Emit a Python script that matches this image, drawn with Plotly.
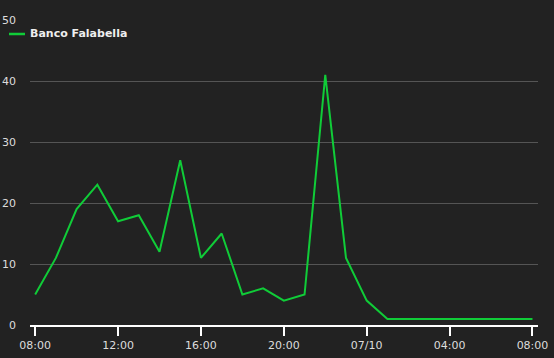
import plotly.graph_objects as go
import pandas as pd

times = pd.date_range("2023-10-06 08:00", "2023-10-07 08:00", freq="h")
values = [5, 11, 19, 23, 17, 18, 12, 27, 11, 15, 5, 6, 4, 5, 41, 11, 4, 1, 1, 1, 1, 1, 1, 1, 1]
series_name = "Banco Falabella"
tick_times = pd.date_range("2023-10-06 08:00", "2023-10-07 08:00", freq="4h")
tick_labels = ["08:00", "12:00", "16:00", "20:00", "07/10", "04:00", "08:00"]
y_ticks = [0, 10, 20, 30, 40, 50]

W, H = 554, 358
ML, MR, MT, MB = 30, 16, 20, 33
PW, PH = W - ML - MR, H - MT - MB
LINE_COLOR = "#10cc38"

def px_x(p):
    return (p - ML) / PW

def px_y(p):
    return 1 - (p - MT) / PH

fig = go.Figure()
fig.add_trace(go.Scatter(x=times, y=values, mode="lines", name=series_name,
                         line=dict(color=LINE_COLOR, width=2), showlegend=False))

# legend drawn as a swatch + label (top-left)
fig.add_shape(type="line", xref="paper", yref="paper",
              x0=px_x(9), x1=px_x(25), y0=px_y(34), y1=px_y(34),
              line=dict(color=LINE_COLOR, width=2.5))
fig.add_annotation(xref="paper", yref="paper", x=px_x(28), y=px_y(34),
                   xanchor="left", yanchor="middle", showarrow=False,
                   text="<b>" + series_name + "</b>",
                   font=dict(size=11, color="#eeeeee", family="DejaVu Sans"))

fig.update_layout(
    width=W, height=H,
    paper_bgcolor="#222222", plot_bgcolor="#222222",
    margin=dict(l=ML, r=MR, t=MT, b=MB, autoexpand=False),
    font=dict(family="DejaVu Sans", color="#dddddd", size=11),
    showlegend=False,
)

fig.update_xaxes(
    range=[pd.Timestamp("2023-10-06 07:45"), pd.Timestamp("2023-10-07 08:16")],
    tickvals=tick_times, ticktext=tick_labels,
    showgrid=False, showline=True, linecolor="#ffffff", linewidth=1.5,
    ticks="outside", tickcolor="#ffffff", ticklen=9, tickwidth=1.5,
    tickfont=dict(size=11, color="#dddddd"), zeroline=False,
)
fig.update_yaxes(
    range=[0, 50], tickvals=y_ticks,
    showgrid=True, gridcolor="#555555", gridwidth=1,
    zeroline=False, showline=False, ticks="",
    ticklabelstandoff=13,
    tickfont=dict(size=11, color="#dddddd"),
)

fig.write_html("out.html", config={"displayModeBar": False},
               post_script="document.body.style.margin='0';document.body.style.background='#222222';")
